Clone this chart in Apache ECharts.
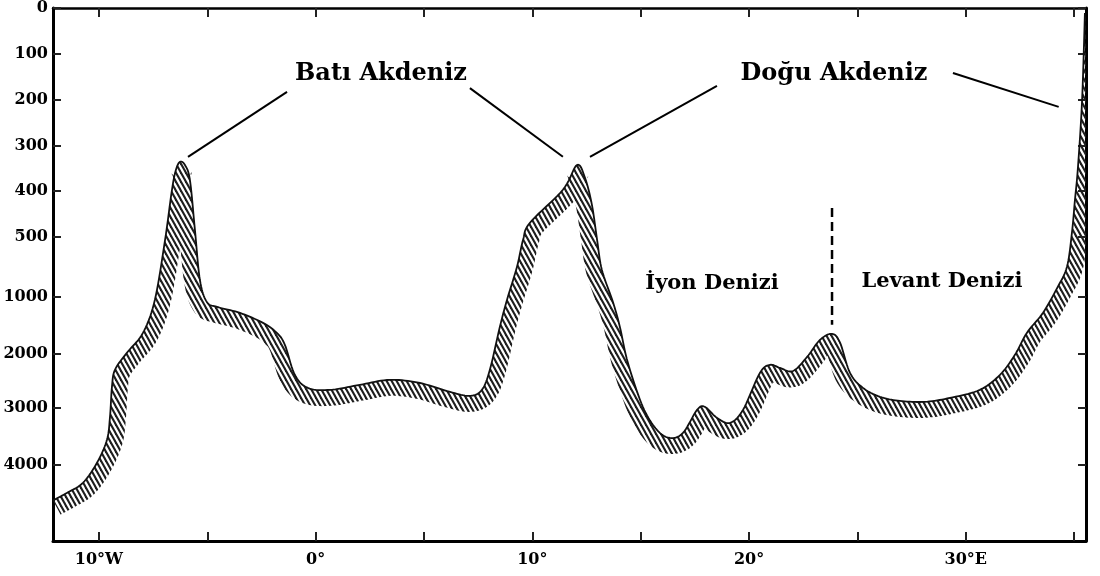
<!DOCTYPE html>
<html><head><meta charset="utf-8">
<script src="https://cdn.jsdelivr.net/npm/echarts@6/dist/echarts.min.js"></script>
<style>html,body{margin:0;padding:0;background:#fff}#c{width:1100px;height:576px}</style>
</head><body><div id="c"></div>
<script>
// ---- data ----
const lon = [-12.12,-11.48,-10.74,-10.09,-9.63,-9.49,-9.40,-9.26,-8.71,-7.97,-7.42,-6.95,-6.63,-6.45,-6.26,-6.03,-5.80,-5.57,-5.34,-5.02,-4.55,-3.49,-2.43,-1.79,-1.42,-0.96,-0.36,0.66,2.04,3.43,4.81,6.20,7.12,7.67,8.04,8.50,8.83,9.29,9.57,9.89,11.41,12.06,12.43,12.75,12.99,13.21,13.72,14.04,14.41,15.10,15.75,16.35,16.95,17.60,17.96,18.52,19.12,19.72,20.50,20.97,21.43,22.03,22.68,23.27,23.83,24.20,24.66,25.26,26.04,26.96,28.12,29.27,30.65,31.58,32.27,32.82,33.56,34.21,34.67,34.90,35.04,35.18,35.37,35.50];
const depth = [4620,4488,4312,3962,3560,3160,2614,2297,1984,1634,1053,526,397,354,336,343,376,485,859,1089,1176,1282,1457,1634,1843,2390,2633,2669,2576,2483,2542,2707,2780,2669,2297,1528,1053,750,526,469,397,343,371,430,526,775,1089,1528,2169,2983,3387,3528,3440,3038,2983,3176,3264,3038,2356,2207,2263,2320,2059,1758,1650,1806,2356,2633,2797,2873,2890,2818,2669,2390,2021,1634,1282,928,750,491,419,347,201,11];
const depthTicks = [0,100,200,300,400,500,1000,2000,3000,4000];
const depthLabels = ['0','100','200','300','400','500','1000','2000','3000','4000'];
const lonTicks = [-10,-5,0,5,10,15,20,25,30,35];
const lonLabelValues = [-10,0,10,20,30];
const lonLabels = ['10°W','0°','10°','20°','30°E'];
// leader lines [lon, depth] pairs
const leaders = [
  [[-1.32,183],[-5.89,325]],
  [[7.12,175],[11.41,325]],
  [[18.52,170],[12.66,325]],
  [[29.41,142],[34.29,216]]
];
const divider = [[23.83,437],[23.83,1490]];
const titles = ['Batı Akdeniz','Doğu Akdeniz','İyon Denizi','Levant Denizi'];

// ---- broken (piecewise) depth scale ----
const SD = [0,500,1000,2000,3000,4000,5000];
const SU = [0,5,6.31,7.55,8.73,9.98,11.23];
function depthToU(d){
  for(let i=0;i<SD.length-1;i++){
    if(d<=SD[i+1]||i===SD.length-2){
      return SU[i]+(d-SD[i])/(SD[i+1]-SD[i])*(SU[i+1]-SU[i]);
    }
  }
}
const tickU = depthTicks.map(depthToU);

// hatch pattern
const pc = document.createElement('canvas');
pc.width = 5; pc.height = 9;
const g = pc.getContext('2d');
g.strokeStyle = '#1e1e1e'; g.lineWidth = 2.1;
for (const sx of [-5,0,5]) { g.beginPath(); g.moveTo(sx-5,-9); g.lineTo(sx+10,18); g.stroke(); }
const hatch = {image: pc, repeat: 'repeat'};

function catmull(p, steps){
  const out=[];
  for(let i=0;i<p.length-1;i++){
    const p0=p[Math.max(i-1,0)],p1=p[i],p2=p[i+1],p3=p[Math.min(i+2,p.length-1)];
    for(let s=0;s<steps;s++){
      const t=s/steps,t2=t*t,t3=t2*t;
      const f=(a,b,c,d)=>0.5*((2*b)+(-a+c)*t+(2*a-5*b+4*c-d)*t2+(-a+3*b-3*c+d)*t3);
      out.push([f(p0[0],p1[0],p2[0],p3[0]),f(p0[1],p1[1],p2[1],p3[1])]);
    }
  }
  out.push(p[p.length-1]);
  return out;
}

function renderProfile(params, api){
  if(params.dataIndex!==0) return null;
  const pts = lon.map((x,i)=>api.coord([x, depthToU(depth[i])]));
  const sm = catmull(pts, 10);
  const W = 16, off=[];
  for(let i=0;i<sm.length;i++){
    const a=sm[Math.max(i-2,0)], b=sm[Math.min(i+2,sm.length-1)];
    let dx=b[0]-a[0], dy=b[1]-a[1]; const L=Math.hypot(dx,dy)||1;
    off.push([sm[i][0]-dy/L*W, sm[i][1]+dx/L*W]);
  }
  const poly = sm.concat(off.slice().reverse());
  return {type:'group', children:[
    {type:'polygon', shape:{points:poly}, style:{fill:hatch, stroke:null}},
    {type:'polyline', shape:{points:sm}, style:{stroke:'#111', lineWidth:1.8, fill:null}}
  ]};
}

const fontTick = {fontFamily:'DejaVu Serif', fontWeight:'bold', fontSize:16, color:'#000'};
const chart = echarts.init(document.getElementById('c'), null, {renderer:'canvas'});

const leaderSeries = leaders.map(l=>({
  type:'line', data:l.map(p=>[p[0],depthToU(p[1])]), symbol:'none', silent:true,
  lineStyle:{color:'#000', width:2}, z:5, animation:false
}));
leaderSeries.push({type:'line', data:divider.map(p=>[p[0],depthToU(p[1])]), symbol:'none', silent:true,
  lineStyle:{color:'#000', width:2.5, type:[9,5]}, animation:false});

const titleFont = {fontFamily:'DejaVu Serif', fontWeight:'bold', fill:'#000', textAlign:'center', textVerticalAlign:'middle'};
chart.setOption({
  animation:false,
  backgroundColor:'#fff',
  grid:{left:53, right:14, top:8, bottom:35},
  xAxis:[{
    type:'value', min:-12.12, max:35.55, position:'bottom',
    axisLine:{show:true, onZero:false, lineStyle:{color:'#000', width:3}},
    axisTick:{show:true, inside:true, length:9, customValues:lonTicks, lineStyle:{color:'#222', width:2}},
    axisLabel:Object.assign({customValues:lonLabelValues, margin:11,
      formatter:v=>lonLabels[lonLabelValues.indexOf(Math.round(v))]}, fontTick),
    splitLine:{show:false}
  },{
    type:'value', min:-12.12, max:35.55, position:'top',
    axisLine:{show:true, onZero:false, lineStyle:{color:'#000', width:2.5}},
    axisTick:{show:true, inside:true, length:9, customValues:lonTicks, lineStyle:{color:'#222', width:2}},
    axisLabel:{show:false}, splitLine:{show:false}
  }],
  yAxis:[{
    type:'value', inverse:true, min:0, max:11.64, position:'left',
    axisLine:{show:true, onZero:false, lineStyle:{color:'#000', width:3}},
    axisTick:{show:true, inside:true, length:8, customValues:tickU, lineStyle:{color:'#222', width:2}},
    axisLabel:Object.assign({customValues:tickU, margin:5,
      formatter:v=>{let bi=0;tickU.forEach((u,i)=>{if(Math.abs(u-v)<Math.abs(tickU[bi]-v))bi=i;});return depthLabels[bi];}}, fontTick),
    splitLine:{show:false}
  },{
    type:'value', inverse:true, min:0, max:11.64, position:'right',
    axisLine:{show:true, onZero:false, lineStyle:{color:'#000', width:3}},
    axisTick:{show:true, inside:true, length:8, customValues:tickU, lineStyle:{color:'#222', width:2}},
    axisLabel:{show:false}, splitLine:{show:false}
  }],
  series:[{
    type:'custom', clip:true, renderItem:renderProfile,
    data:lon.map((x,i)=>[x, depthToU(depth[i])]), encode:{x:0,y:1}, z:3
  }].concat(leaderSeries),
  graphic:[
    {type:'text', x:381, y:74, style:Object.assign({text:titles[0], fontSize:24}, titleFont)},
    {type:'text', x:834, y:74, style:Object.assign({text:titles[1], fontSize:24}, titleFont)},
    {type:'text', x:712, y:284, style:Object.assign({text:titles[2], fontSize:21}, titleFont)},
    {type:'text', x:942, y:282, style:Object.assign({text:titles[3], fontSize:21}, titleFont)}
  ]
});
</script></body></html>
